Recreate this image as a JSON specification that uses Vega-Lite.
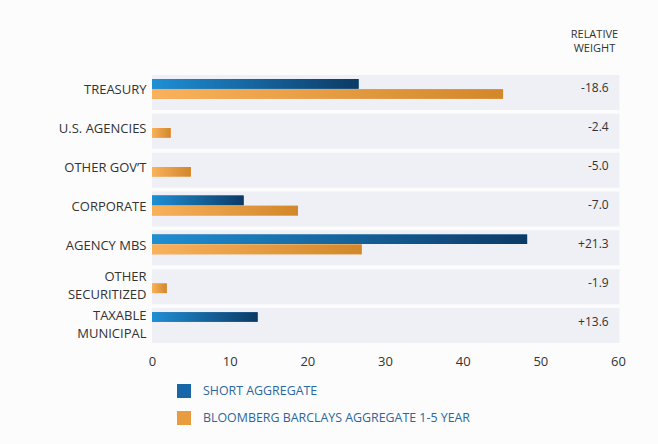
{
  "$schema": "https://vega.github.io/schema/vega-lite/v6.json",
  "width": 466,
  "height": 272,
  "autosize": {"type": "none"},
  "padding": {"left": 152, "top": 73, "right": 40, "bottom": 99},
  "background": "#fcfcfd",
  "config": {"view": {"stroke": null}, "font": "Open Sans"},
  "title": {"text": ["RELATIVE", "WEIGHT"], "anchor": "end", "align": "center", "dx": -31, "fontSize": 11, "fontWeight": "normal", "color": "#333333", "offset": 19, "lineHeight": 14},
  "datasets": {
    "cats": [
      {"cat": "TREASURY", "rel": "-18.6"},
      {"cat": "U.S. AGENCIES", "rel": "-2.4"},
      {"cat": "OTHER GOV’T", "rel": "-5.0"},
      {"cat": "CORPORATE", "rel": "-7.0"},
      {"cat": "AGENCY MBS", "rel": "+21.3"},
      {"cat": "OTHER|SECURITIZED", "rel": "-1.9"},
      {"cat": "TAXABLE|MUNICIPAL", "rel": "+13.6"}
    ],
    "bars": [
      {"cat": "TREASURY", "series": "SHORT AGGREGATE", "value": 26.6},
      {"cat": "TREASURY", "series": "BLOOMBERG BARCLAYS AGGREGATE 1-5 YEAR", "value": 45.2},
      {"cat": "U.S. AGENCIES", "series": "BLOOMBERG BARCLAYS AGGREGATE 1-5 YEAR", "value": 2.4},
      {"cat": "OTHER GOV’T", "series": "BLOOMBERG BARCLAYS AGGREGATE 1-5 YEAR", "value": 5.0},
      {"cat": "CORPORATE", "series": "SHORT AGGREGATE", "value": 11.8},
      {"cat": "CORPORATE", "series": "BLOOMBERG BARCLAYS AGGREGATE 1-5 YEAR", "value": 18.8},
      {"cat": "AGENCY MBS", "series": "SHORT AGGREGATE", "value": 48.3},
      {"cat": "AGENCY MBS", "series": "BLOOMBERG BARCLAYS AGGREGATE 1-5 YEAR", "value": 27.0},
      {"cat": "OTHER|SECURITIZED", "series": "BLOOMBERG BARCLAYS AGGREGATE 1-5 YEAR", "value": 1.9},
      {"cat": "TAXABLE|MUNICIPAL", "series": "SHORT AGGREGATE", "value": 13.6}
    ]
  },
  "layer": [
    {
      "data": {"name": "cats"},
      "mark": {"type": "bar", "color": "#eff0f5"},
      "encoding": {
        "y": {"field": "cat", "type": "nominal", "sort": null,
              "scale": {"domain": ["TREASURY", "U.S. AGENCIES", "OTHER GOV’T", "CORPORATE", "AGENCY MBS", "OTHER|SECURITIZED", "TAXABLE|MUNICIPAL"], "paddingInner": 0.1, "paddingOuter": 0.05},
              "axis": {"title": null, "domain": false, "ticks": false, "labelPadding": 6, "labelFontSize": 13, "labelColor": "#333333", "labelLineHeight": 18, "labelExpr": "split(datum.label, '|')",
                       "labelOffset": {"condition": {"test": "indexof(datum.value, '|') >= 0", "value": -10}, "value": -2}}},
        "x": {"datum": 0, "type": "quantitative",
              "scale": {"domain": [0, 60], "nice": false},
              "axis": {"title": null, "values": [0, 10, 20, 30, 40, 50, 60], "grid": false, "domain": false, "ticks": false, "labelFlush": false, "labelPadding": 10, "labelFontSize": 13, "labelColor": "#333333"}},
        "x2": {"datum": 60.2}
      }
    },
    {
      "data": {"name": "bars"},
      "mark": {"type": "bar"},
      "encoding": {
        "y": {"field": "cat", "type": "nominal", "sort": null},
        "yOffset": {"field": "series", "type": "nominal",
                    "scale": {"domain": ["SHORT AGGREGATE", "BLOOMBERG BARCLAYS AGGREGATE 1-5 YEAR"], "paddingInner": 0.05, "paddingOuter": 0.75, "align": 0.27}},
        "x": {"field": "value", "type": "quantitative"},
        "color": {"field": "series", "type": "nominal",
                  "scale": {"domain": ["SHORT AGGREGATE", "BLOOMBERG BARCLAYS AGGREGATE 1-5 YEAR"], "range": ["#1766a8", "#e99c3f"]},
                  "legend": {"orient": "none", "legendX": 25, "legendY": 311, "title": null, "symbolType": "square", "symbolSize": 196, "labelFontSize": 12.4, "labelLimit": 0, "labelColor": "#2b679c", "labelOffset": 12, "rowPadding": 13, "symbolStrokeWidth": 0, "direction": "vertical", "symbolOpacity": 1}}
      }
    },
    {
      "data": {"name": "bars"},
      "transform": [{"filter": "datum.series === 'SHORT AGGREGATE'"}],
      "mark": {"type": "bar", "fill": {"gradient": "linear", "x1": 0, "y1": 0, "x2": 1, "y2": 0, "stops": [{"offset": 0, "color": "#1f8fd4"}, {"offset": 1, "color": "#0c3a66"}]}},
      "encoding": {
        "y": {"field": "cat", "type": "nominal", "sort": null},
        "yOffset": {"field": "series", "type": "nominal"},
        "x": {"field": "value", "type": "quantitative"}
      }
    },
    {
      "data": {"name": "bars"},
      "transform": [{"filter": "datum.series !== 'SHORT AGGREGATE'"}],
      "mark": {"type": "bar", "fill": {"gradient": "linear", "x1": 0, "y1": 0, "x2": 1, "y2": 0, "stops": [{"offset": 0, "color": "#f9b15b"}, {"offset": 1, "color": "#d2872a"}]}},
      "encoding": {
        "y": {"field": "cat", "type": "nominal", "sort": null},
        "yOffset": {"field": "series", "type": "nominal"},
        "x": {"field": "value", "type": "quantitative"}
      }
    },
    {
      "data": {"name": "cats"},
      "mark": {"type": "text", "align": "right", "baseline": "middle", "dy": -4, "fontSize": 12, "color": "#333333"},
      "encoding": {
        "y": {"field": "cat", "type": "nominal", "sort": null},
        "x": {"datum": 58.8, "type": "quantitative"},
        "text": {"field": "rel"}
      }
    }
  ]
}
